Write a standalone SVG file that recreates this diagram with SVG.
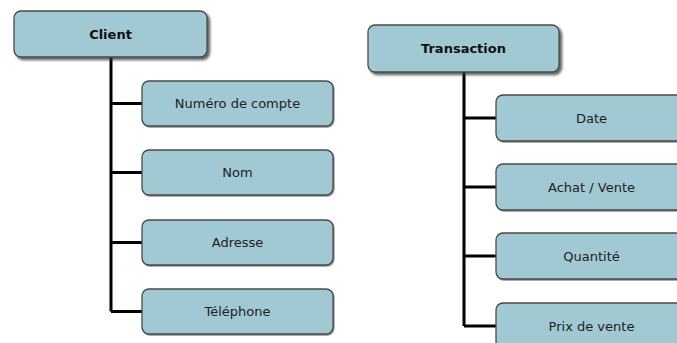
<svg xmlns="http://www.w3.org/2000/svg" width="677" height="343" viewBox="0 0 677 343">
  <defs>
    <filter id="shadowHead" x="-10%" y="-20%" width="130%" height="160%">
      <feDropShadow dx="2.5" dy="2.5" stdDeviation="0.8" flood-color="#333" flood-opacity="0.75"/>
    </filter>
    <filter id="shadowItem" x="-10%" y="-20%" width="130%" height="160%">
      <feDropShadow dx="1" dy="1" stdDeviation="0.5" flood-color="#444" flood-opacity="0.6"/>
    </filter>
  </defs>
  <style>
    .box { fill: #a0c9d3; stroke: #4a4a4a; stroke-width: 1.3; }
    .head { filter: url(#shadowHead); }
    .item { filter: url(#shadowItem); }
    .lbl { font-family: "DejaVu Sans", Verdana, sans-serif; font-size: 13px; fill: #222; text-anchor: middle; }
    .bold { font-weight: bold; fill: #111; }
    .wire { stroke: #000; stroke-width: 3; fill: none; }
  </style>
  <rect width="677" height="343" fill="#fff"/>

  <!-- tree connectors -->
  <g id="connectors">
    <path class="wire" d="M111 57 V311.5 M111 103.5 H142 M111 172.5 H142 M111 242.5 H142 M111 311.5 H142"/>
    <path class="wire" d="M464 72 V326 M464 118 H496 M464 187 H496 M464 256 H496 M464 326 H496"/>
  </g>

  <!-- Client branch -->
  <g id="client">
    <rect class="box head" x="14" y="11" width="193" height="46" rx="7"/>
    <text class="lbl bold" x="110.5" y="39">Client</text>
  </g>
  <g id="numero-compte">
    <rect class="box item" x="142" y="81" width="191" height="45" rx="7"/>
    <text class="lbl" x="237.5" y="108">Numéro de compte</text>
  </g>
  <g id="nom">
    <rect class="box item" x="142" y="150" width="191" height="45" rx="7"/>
    <text class="lbl" x="237.5" y="177">Nom</text>
  </g>
  <g id="adresse">
    <rect class="box item" x="142" y="220" width="191" height="45" rx="7"/>
    <text class="lbl" x="237.5" y="247">Adresse</text>
  </g>
  <g id="telephone">
    <rect class="box item" x="142" y="289" width="191" height="45" rx="7"/>
    <text class="lbl" x="237.5" y="316">Téléphone</text>
  </g>

  <!-- Transaction branch -->
  <g id="transaction">
    <rect class="box head" x="368" y="25" width="191" height="47" rx="7"/>
    <text class="lbl bold" x="463.5" y="53">Transaction</text>
  </g>
  <g id="date">
    <rect class="box item" x="496" y="95" width="191" height="46" rx="7"/>
    <text class="lbl" x="591.5" y="123">Date</text>
  </g>
  <g id="achat-vente">
    <rect class="box item" x="496" y="164" width="191" height="46" rx="7"/>
    <text class="lbl" x="591.5" y="192">Achat / Vente</text>
  </g>
  <g id="quantite">
    <rect class="box item" x="496" y="233" width="191" height="46" rx="7"/>
    <text class="lbl" x="591.5" y="261">Quantité</text>
  </g>
  <g id="prix-vente">
    <rect class="box item" x="496" y="303" width="191" height="46" rx="7"/>
    <text class="lbl" x="591.5" y="331">Prix de vente</text>
  </g>
</svg>
